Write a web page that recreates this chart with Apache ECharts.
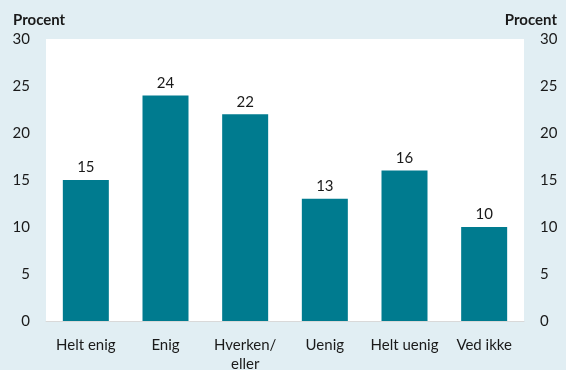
<!DOCTYPE html>
<html>
<head>
<meta charset="utf-8">
<script src="https://cdn.jsdelivr.net/npm/echarts@6/dist/echarts.min.js"></script>
<style>
  html, body { margin: 0; padding: 0; background: #e1eef3; }
  #chart { width: 566px; height: 370px; }
</style>
</head>
<body>
<div id="chart"></div>
<script>
// Answer categories and shares (percent)
const categories = ['Helt enig', 'Enig', 'Hverken/\neller', 'Uenig', 'Helt uenig', 'Ved ikke'];
const shares = [15, 24, 22, 13, 16, 10];
const axisName = 'Procent';
const axisMin = 0, axisMax = 30, axisStep = 5;

const FONT = 'Lato';
const barColor = '#007b8f';

const valueAxis = (pos) => ({
  type: 'value',
  position: pos,
  min: axisMin, max: axisMax, interval: axisStep,
  axisLine: { show: false },
  axisTick: { show: false },
  splitLine: { show: false },
  axisLabel: { color: '#1a1a1a', fontFamily: FONT, fontSize: 15, margin: 16 }
});

const chart = echarts.init(document.getElementById('chart'), null, { renderer: 'canvas' });
chart.setOption({
  backgroundColor: '#e1eef3',
  animation: false,
  textStyle: { fontFamily: FONT },
  graphic: [
    { type: 'text', left: 13, top: 13, style: { text: axisName, fontFamily: FONT, fontSize: 15, fontWeight: 'bold', fill: '#1a1a1a' } },
    { type: 'text', right: 9, top: 13, style: { text: axisName, fontFamily: FONT, fontSize: 15, fontWeight: 'bold', fill: '#1a1a1a' } }
  ],
  grid: {
    left: 46, right: 42, top: 39, bottom: 49,
    containLabel: false, outerBoundsMode: 'none',
    show: true, backgroundColor: '#ffffff', borderWidth: 0
  },
  xAxis: {
    type: 'category',
    data: categories,
    axisLine: { show: true, lineStyle: { color: '#d9d9d9', width: 1 } },
    axisTick: { show: false },
    axisLabel: { color: '#1a1a1a', fontFamily: FONT, fontSize: 15, margin: 15, lineHeight: 19, interval: 0 }
  },
  yAxis: [valueAxis('left'), valueAxis('right')],
  series: [{
    type: 'bar',
    data: shares,
    barWidth: 46,
    itemStyle: { color: barColor },
    label: { show: true, position: 'top', distance: 5, color: '#1a1a1a', fontFamily: FONT, fontSize: 15 }
  }]
});
</script>
</body>
</html>
